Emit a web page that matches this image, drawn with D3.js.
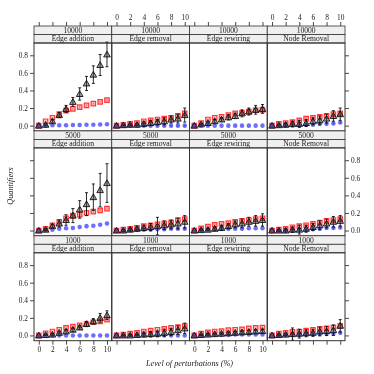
<!DOCTYPE html>
<html><head><meta charset="utf-8">
<script src="https://cdn.jsdelivr.net/npm/d3@7"></script>
<style>body{margin:0;background:#fff}svg{display:block;will-change:transform}text{font-family:"Liberation Serif","DejaVu Serif",serif;fill:#222;opacity:0.999}</style>
</head><body><svg id="c" width="374" height="374"></svg>
<script>
// ---------- data ----------
const levels = [0,1,2,3,4,5,6,7,8,9,10];
const sizes = ["10000","5000","1000"];
const perturbations = ["Edge addition","Edge removal","Edge rewiring","Node Removal"];
const xTicks = [0,2,4,6,8,10];
const yTicks = [0,0.2,0.4,0.6,0.8];

// black triangles (mean) per perturbation, one array per network size
const tri_10000 = [
  [0,0.01,0.05,0.12,0.19,0.27,0.36,0.48,0.58,0.69,0.81],
  [0,0.005,0.01,0.01,0.02,0.03,0.04,0.05,0.07,0.08,0.12],
  [0,0.015,0.03,0.05,0.07,0.095,0.11,0.14,0.16,0.18,0.19],
  [0,0.005,0.01,0.02,0.02,0.03,0.05,0.06,0.08,0.11,0.13]];
const triSd_10000 = [
  [0,0.01,0.02,0.03,0.04,0.05,0.07,0.08,0.10,0.12,0.14],
  [0,0.005,0.01,0.01,0.02,0.03,0.03,0.04,0.04,0.05,0.08],
  [0,0.01,0.01,0.02,0.02,0.03,0.03,0.04,0.04,0.05,0.05],
  [0,0.01,0.02,0.03,0.04,0.04,0.04,0.05,0.05,0.06,0.07]];
const sq_10000 = [
  [0,0.05,0.09,0.13,0.17,0.19,0.21,0.23,0.25,0.27,0.29],
  [0,0.01,0.02,0.03,0.05,0.06,0.07,0.08,0.09,0.11,0.14],
  [0,0.03,0.07,0.09,0.10,0.12,0.14,0.145,0.16,0.175,0.18],
  [0,0.02,0.03,0.04,0.06,0.08,0.09,0.10,0.11,0.13,0.14]];
const sqSd_10000 = [
  [0,0.005,0.005,0.005,0.01,0.01,0.01,0.01,0.01,0.01,0.01],
  [0,0.005,0.005,0.01,0.01,0.01,0.02,0.02,0.02,0.02,0.03],
  [0,0.005,0.005,0.01,0.01,0.01,0.01,0.01,0.02,0.02,0.02],
  [0,0.005,0.01,0.01,0.02,0.02,0.02,0.02,0.02,0.03,0.03]];
const ci_10000 = [
  [0,0,0.005,0.005,0.005,0.008,0.008,0.01,0.01,0.012,0.015],
  [0,0,0,0,0,0,0,0,0,0,0],
  [0,0,0,0,0,0,0,0,0,0,0],
  [0,0,0,0,0.005,0.01,0.01,0.02,0.02,0.025,0.035]];
const ciSd_10000 = [
  [0,0,0,0,0,0,0,0,0,0,0],
  [0,0,0,0,0.005,0.005,0.01,0.01,0.01,0.01,0.01],
  [0,0,0,0,0,0,0,0,0,0,0],
  [0,0.005,0.01,0.01,0.01,0.01,0.01,0.01,0.01,0.01,0.01]];

const tri_5000 = [
  [0,0.01,0.05,0.08,0.12,0.17,0.24,0.30,0.38,0.46,0.54],
  [0,0,0.01,0.02,0.03,0.04,0.05,0.06,0.07,0.08,0.10],
  [0,0.005,0.01,0.02,0.03,0.05,0.07,0.08,0.10,0.11,0.12],
  [0,0,0,0.01,0.01,0.02,0.04,0.06,0.08,0.10,0.11]];
const triSd_5000 = [
  [0,0.01,0.02,0.04,0.06,0.08,0.10,0.13,0.15,0.19,0.22],
  [0,0.01,0.02,0.02,0.03,0.04,0.10,0.05,0.05,0.06,0.07],
  [0,0.01,0.01,0.02,0.03,0.03,0.04,0.05,0.05,0.06,0.07],
  [0,0.01,0.02,0.03,0.05,0.04,0.04,0.05,0.05,0.06,0.06]];
const sq_5000 = [
  [0,0.02,0.06,0.10,0.14,0.17,0.18,0.20,0.215,0.23,0.25],
  [0,0.01,0.02,0.03,0.05,0.06,0.07,0.08,0.09,0.12,0.13],
  [0,0.025,0.045,0.065,0.075,0.085,0.10,0.11,0.12,0.13,0.14],
  [0,0.01,0.02,0.035,0.05,0.06,0.075,0.09,0.11,0.12,0.13]];
const sqSd_5000 = [
  [0,0.005,0.01,0.01,0.015,0.015,0.015,0.015,0.015,0.015,0.015],
  [0,0.005,0.005,0.01,0.01,0.02,0.02,0.02,0.02,0.02,0.02],
  [0,0.005,0.005,0.01,0.01,0.01,0.01,0.01,0.01,0.01,0.01],
  [0,0.005,0.01,0.01,0.02,0.02,0.02,0.02,0.02,0.02,0.02]];
const ci_5000 = [
  [0,0.005,0.01,0.02,0.025,0.03,0.04,0.05,0.055,0.065,0.08],
  [0,0,0.005,0.005,0.01,0.01,0.015,0.015,0.02,0.02,0.02],
  [0,0.005,0.01,0.015,0.02,0.02,0.02,0.02,0.025,0.025,0.025],
  [0,0,0,0,0.005,0.01,0.015,0.02,0.03,0.03,0.035]];
const ciSd_5000 = [
  [0,0,0,0,0,0,0,0,0,0,0],
  [0,0,0.005,0.005,0.01,0.01,0.01,0.01,0.01,0.01,0.01],
  [0,0,0,0,0,0,0,0,0,0,0],
  [0,0.005,0.01,0.01,0.01,0.01,0.01,0.01,0.01,0.01,0.015]];

const tri_1000 = [
  [0,0.005,0.01,0.03,0.045,0.065,0.09,0.13,0.16,0.20,0.23],
  [0,0,0,0.005,0.01,0.015,0.02,0.03,0.04,0.06,0.08],
  [0,0.005,0.01,0.015,0.02,0.025,0.03,0.035,0.04,0.045,0.05],
  [0,0.005,0.01,0.015,0.02,0.025,0.03,0.045,0.05,0.06,0.11]];
const triSd_1000 = [
  [0,0.005,0.01,0.01,0.02,0.02,0.02,0.03,0.03,0.05,0.05],
  [0,0.005,0.01,0.01,0.02,0.03,0.03,0.04,0.04,0.05,0.06],
  [0,0.005,0.01,0.01,0.01,0.015,0.015,0.02,0.02,0.02,0.02],
  [0,0.01,0.01,0.07,0.05,0.04,0.04,0.05,0.05,0.06,0.07]];
const sq_1000 = [
  [0,0.025,0.045,0.065,0.085,0.10,0.115,0.13,0.15,0.16,0.18],
  [0,0.01,0.02,0.03,0.045,0.055,0.065,0.075,0.085,0.095,0.105],
  [0,0.02,0.035,0.045,0.05,0.06,0.065,0.07,0.08,0.085,0.09],
  [0,0.02,0.03,0.04,0.045,0.055,0.065,0.075,0.08,0.09,0.11]];
const sqSd_1000 = [
  [0,0.005,0.005,0.005,0.01,0.01,0.01,0.01,0.01,0.01,0.01],
  [0,0.005,0.005,0.005,0.01,0.01,0.01,0.01,0.01,0.01,0.01],
  [0,0.005,0.005,0.005,0.005,0.005,0.005,0.005,0.005,0.005,0.005],
  [0,0.005,0.005,0.01,0.02,0.02,0.02,0.02,0.02,0.02,0.02]];
const ci_1000 = [
  [0,0,0,0,0,0,0,0,0,0,0],
  [0,0,0,0,0,0,0,0,0,0,0],
  [0,0,0.005,0.005,0.005,0.005,0.01,0.01,0.01,0.01,0.01],
  [0,0,0,0.005,0.005,0.01,0.01,0.015,0.015,0.02,0.03]];
const ciSd_1000 = [
  [0,0,0,0,0,0,0,0,0,0,0],
  [0,0,0,0,0,0,0,0,0,0,0],
  [0,0,0,0,0,0,0,0,0,0,0],
  [0,0,0.01,0.02,0.02,0.02,0.02,0.02,0.02,0.02,0.02]];

const triBySize = {"10000":tri_10000,"5000":tri_5000,"1000":tri_1000};
const triSdBySize = {"10000":triSd_10000,"5000":triSd_5000,"1000":triSd_1000};
const sqBySize = {"10000":sq_10000,"5000":sq_5000,"1000":sq_1000};
const sqSdBySize = {"10000":sqSd_10000,"5000":sqSd_5000,"1000":sqSd_1000};
const ciBySize = {"10000":ci_10000,"5000":ci_5000,"1000":ci_1000};
const ciSdBySize = {"10000":ciSd_10000,"5000":ciSd_5000,"1000":ciSd_1000};

// ---------- layout ----------
const svg = d3.select("#c");
const L = 34, R = 345, top0 = 26, stripH = 8.5, panelH = 87.9;
const colW = (R - L) / 4;
const rowH = 2*stripH + panelH;
const fmt = d3.format(".1f");
const border = "#333";

const xs = d3.scaleLinear().domain([-0.7,10.7]).range([0,colW]);
const ys = d3.scaleLinear().domain([-0.06,0.94]).range([panelH,0]);

const tri = d3.symbol().type(d3.symbolTriangle).size(19);
const sq = d3.symbol().type(d3.symbolSquare).size(20);
const ci = d3.symbol().type(d3.symbolCircle).size(16);

function errBars(g, vals, sds, color, cap){
  const d = levels.map((x,i)=>({x, v:vals[i], s:sds[i]})).filter(p=>p.s>0);
  g.selectAll(null).data(d).enter().append("line")
    .attr("x1",p=>xs(p.x)).attr("x2",p=>xs(p.x))
    .attr("y1",p=>ys(p.v-p.s)).attr("y2",p=>ys(p.v+p.s))
    .attr("stroke",color).attr("stroke-width",0.9);
  if(cap){
    ["lo","hi"].forEach(k=>{
      g.selectAll(null).data(d).enter().append("line")
        .attr("x1",p=>xs(p.x)-1.5).attr("x2",p=>xs(p.x)+1.5)
        .attr("y1",p=>ys(k==="lo"?p.v-p.s:p.v+p.s)).attr("y2",p=>ys(k==="lo"?p.v-p.s:p.v+p.s))
        .attr("stroke",color).attr("stroke-width",0.9);
    });
  }
}

sizes.forEach((size, r) => {
  const rowTop = top0 + r*rowH;
  const pTop = rowTop + 2*stripH;
  perturbations.forEach((pert, c) => {
    const x0 = L + c*colW;
    // strips
    [[size,0],[pert,1]].forEach(([label,k])=>{
      svg.append("rect").attr("x",x0).attr("y",rowTop+k*stripH).attr("width",colW).attr("height",stripH)
        .attr("fill","#efefef").attr("stroke",border).attr("stroke-width",0.8);
      svg.append("text").attr("x",x0+colW/2).attr("y",rowTop+k*stripH+stripH/2)
        .attr("text-anchor","middle").attr("dominant-baseline","central")
        .attr("font-size",7.6).text(label);
    });
    const g = svg.append("g").attr("transform",`translate(${x0},${pTop})`);
    // series
    const sqV = sqBySize[size][c], sqS = sqSdBySize[size][c];
    const ciV = ciBySize[size][c], ciS = ciSdBySize[size][c];
    const trV = triBySize[size][c], trS = triSdBySize[size][c];
    errBars(g, sqV, sqS, "rgba(220,0,0,0.6)", false);
    g.selectAll(null).data(levels).enter().append("path").attr("d",sq)
      .attr("transform",(x,i)=>`translate(${xs(x)},${ys(sqV[i])})`)
      .attr("fill","rgba(255,60,60,0.35)").attr("stroke","rgba(255,0,0,0.75)").attr("stroke-width",1.2);
    errBars(g, ciV, ciS, "rgba(0,0,200,0.7)", false);
    g.selectAll(null).data(levels).enter().append("path").attr("d",ci)
      .attr("transform",(x,i)=>`translate(${xs(x)},${ys(ciV[i])})`)
      .attr("fill","rgba(30,30,255,0.65)");
    errBars(g, trV, trS, "#111", true);
    g.selectAll(null).data(levels).enter().append("path").attr("d",tri)
      .attr("transform",(x,i)=>`translate(${xs(x)},${ys(trV[i])+0.6})`)
      .attr("fill","rgba(60,60,60,0.45)").attr("stroke","#111").attr("stroke-width",0.9);
    // panel border
    g.append("rect").attr("width",colW).attr("height",panelH).attr("fill","none")
      .attr("stroke",border).attr("stroke-width",1);

    // x axes (top row -> top, bottom row -> bottom), alternating labels
    if(r===0){
      const ax = svg.append("g").attr("transform",`translate(${x0},${rowTop})`)
        .call(d3.axisTop(xs).tickValues(xTicks).tickSize(4).tickPadding(2)
          .tickFormat(c%2===1 ? d3.format("d") : ()=>""));
      styleAxis(ax);
    }
    if(r===sizes.length-1){
      const ax = svg.append("g").attr("transform",`translate(${x0},${pTop+panelH})`)
        .call(d3.axisBottom(xs).tickValues(xTicks).tickSize(4).tickPadding(2)
          .tickFormat(c%2===0 ? d3.format("d") : ()=>""));
      styleAxis(ax);
    }
    if(c===0){
      const ax = svg.append("g").attr("transform",`translate(${x0},${pTop})`)
        .call(d3.axisLeft(ys).tickValues(yTicks).tickSize(4).tickPadding(2)
          .tickFormat(r%2===0 ? fmt : ()=>""));
      styleAxis(ax);
    }
    if(c===perturbations.length-1){
      const ax = svg.append("g").attr("transform",`translate(${x0+colW},${pTop})`)
        .call(d3.axisRight(ys).tickValues(yTicks).tickSize(4).tickPadding(2)
          .tickFormat(r%2===1 ? fmt : ()=>""));
      styleAxis(ax);
    }
  });
});

function styleAxis(ax){
  ax.select(".domain").remove();
  ax.selectAll(".tick line").attr("stroke",border).attr("stroke-width",0.9);
  ax.selectAll(".tick text").attr("font-size",7.4).attr("fill","#222")
    .attr("font-family","'Liberation Serif','DejaVu Serif',serif");
}

svg.append("text").attr("transform","translate(10,186) rotate(-90)")
  .attr("text-anchor","middle").attr("dominant-baseline","central")
  .attr("font-style","italic").attr("font-size",8.2).text("Quantifiers");
svg.append("text").attr("x",189.5).attr("y",363.5)
  .attr("text-anchor","middle").attr("dominant-baseline","central")
  .attr("font-style","italic").attr("font-size",8.2).text("Level of perturbations (%)");
</script></body></html>
